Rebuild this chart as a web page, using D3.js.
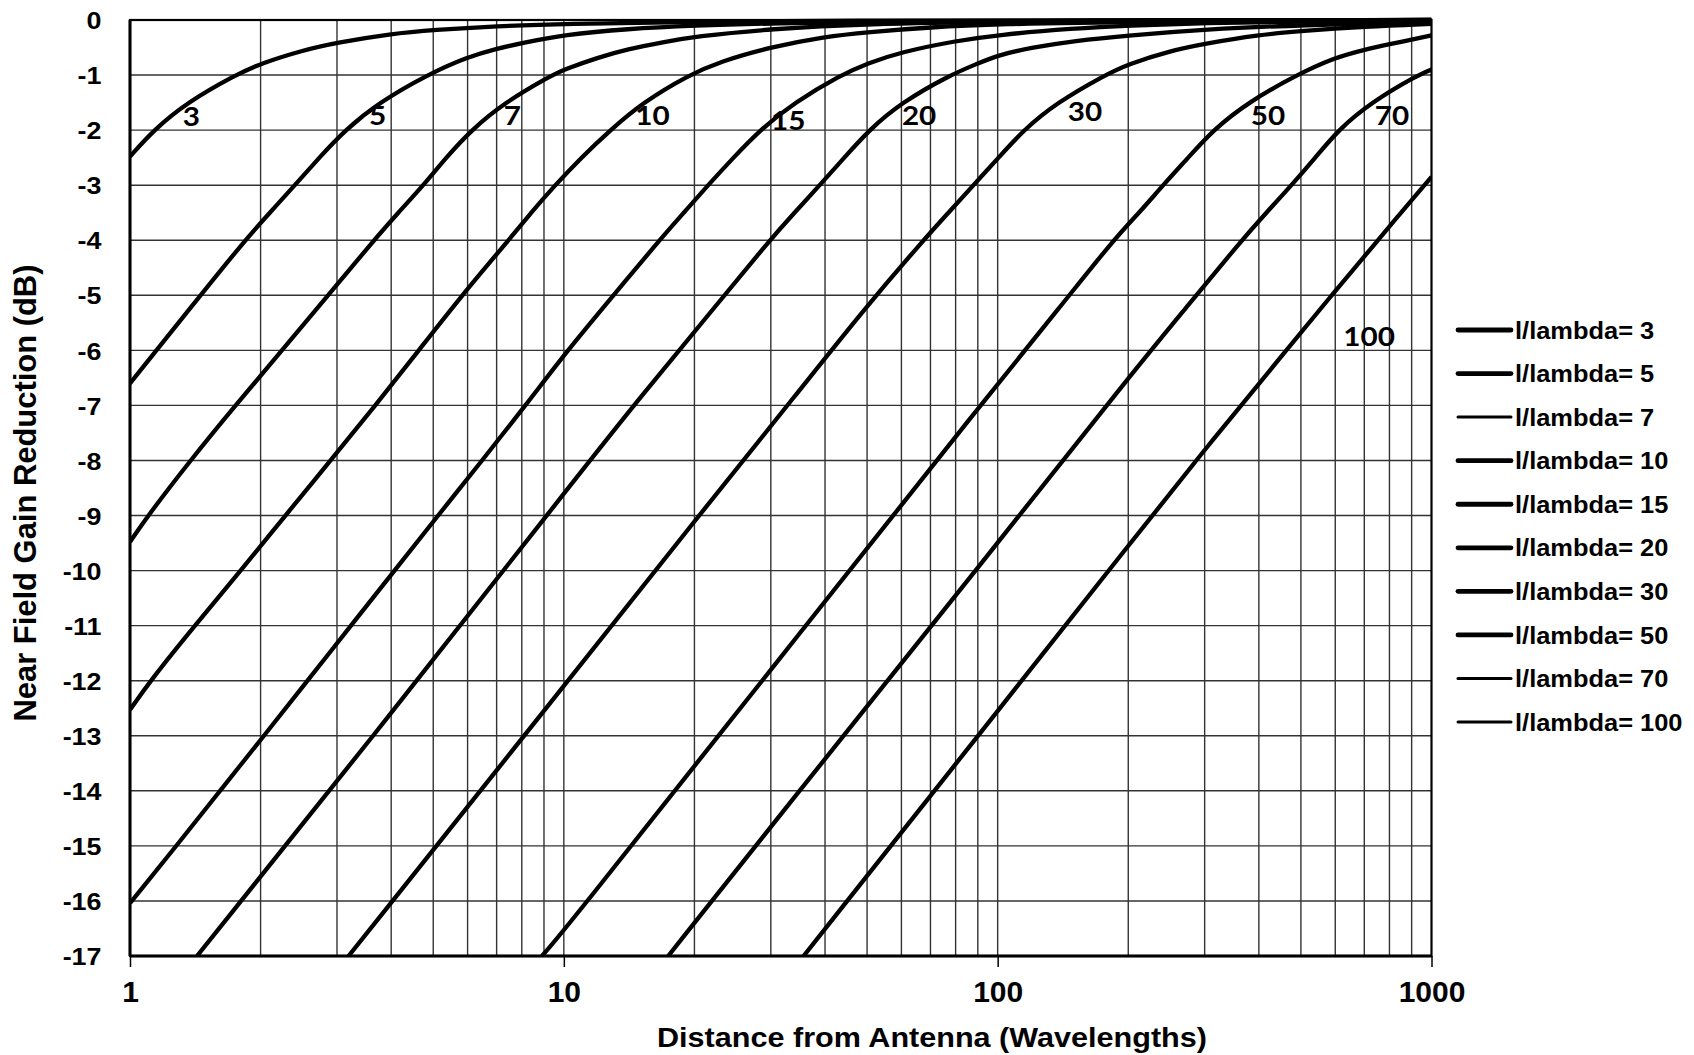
<!DOCTYPE html>
<html><head><meta charset="utf-8">
<script src="https://cdn.jsdelivr.net/npm/d3@7"></script>
<style>
html,body{margin:0;padding:0;background:#fff;}
svg{display:block;}
</style></head><body>
<svg id="chart" width="1694" height="1055"></svg>
<script>
// ---------------- data ----------------
const lengthValues = [3, 5, 7, 10, 15, 20, 30, 50, 70, 100];
const legendLabels = lengthValues.map(v => "l/lambda= " + v);
const curveLabels = ["3", "5", "7", "10", "15", "20", "30", "50", "70", "100"];

const xTickValues = [1, 10, 100, 1000];
const xTickLabels = ["1", "10", "100", "1000"];
const yTickValues = [0,-1,-2,-3,-4,-5,-6,-7,-8,-9,-10,-11,-12,-13,-14,-15,-16,-17];
const yTickLabels = ["0","-1","-2","-3","-4","-5","-6","-7","-8","-9","-10","-11","-12","-13","-14","-15","-16","-17"];

// [distance in wavelengths, gain reduction in dB]
const l3 = [[1,-2.48],[1.134,-2],[1.353,-1.5],[1.75,-1],[2,-0.79],[2.5,-0.55],[3,-0.41],[4,-0.25],[5,-0.18],[7,-0.11],[10,-0.07],[20,-0.03],[50,-0.012],[100,-0.005],[1000,0]];
const l5 = [[1,-6.6],[1.365,-5.27],[1.84,-4],[2.1,-3.5],[2.40,-3],[2.73,-2.5],[3.13,-2],[3.75,-1.5],[4.83,-1],[6,-0.67],[7,-0.52],[8,-0.42],[10,-0.27],[14,-0.16],[20,-0.1],[30,-0.06],[60,-0.03],[150,-0.01],[1000,0]];
const l7 = [[1,-9.48],[1.10,-9],[1.377,-8],[1.75,-7],[2.24,-6],[2.86,-5],[3.65,-4],[4.15,-3.5],[4.75,-3],[5.35,-2.5],[6.12,-2],[7.3,-1.5],[9.4,-1],[10,-0.9],[12,-0.68],[14,-0.53],[17,-0.4],[20,-0.3],[30,-0.16],[50,-0.07],[100,-0.03],[300,-0.01],[1000,0]];
const l10 = [[1,-12.53],[1.114,-12],[1.41,-11],[1.80,-10],[2.28,-9],[2.90,-8],[3.68,-7],[4.63,-6],[5.82,-5],[7.46,-4],[8.4,-3.5],[9.55,-3],[10.96,-2.5],[12.8,-2],[15.2,-1.5],[19.4,-1],[23,-0.75],[30,-0.49],[40,-0.3],[50,-0.22],[70,-0.13],[100,-0.075],[200,-0.03],[1000,-0.005]];
const l15 = [[1,-16.04],[1.279,-15],[1.612,-14],[2.036,-13],[2.566,-12],[3.23,-11],[4.07,-10],[5.13,-9],[6.48,-8],[8.16,-7],[10.2,-6],[12.4,-5.2],[16.6,-4],[18.9,-3.5],[21.5,-3],[24.6,-2.5],[28.3,-2],[34,-1.5],[43.5,-1],[50,-0.79],[60,-0.58],[80,-0.38],[100,-0.27],[150,-0.15],[200,-0.1],[300,-0.055],[500,-0.025],[1000,-0.01]];
const l20 = [[1.427,-17],[4,-12.6],[10,-8.6],[15,-6.85],[22.0,-5.27],[29.8,-4],[34,-3.5],[38.9,-3],[44.3,-2.5],[50.5,-2],[60,-1.5],[77.6,-1],[90,-0.79],[100,-0.64],[120,-0.5],[150,-0.38],[200,-0.28],[300,-0.17],[500,-0.09],[1000,-0.04]];
const l30 = [[3.19,-17],[10,-12.1],[20,-9.1],[35,-6.72],[49,-5.27],[67.4,-4],[77,-3.5],[87.9,-3],[100,-2.52],[114.6,-2],[137,-1.5],[176.7,-1],[200,-0.8],[250,-0.56],[300,-0.43],[400,-0.27],[500,-0.2],[700,-0.12],[1000,-0.07]];
const l50 = [[8.9,-17],[10,-16.55],[30,-11.8],[100,-6.6],[137.5,-5.27],[184.5,-4],[212,-3.5],[240.5,-3],[275,-2.5],[313.5,-2],[377,-1.5],[488,-1],[600,-0.68],[700,-0.54],[800,-0.44],[1000,-0.28]];
const l70 = [[17.4,-17],[30,-14.65],[100,-9.5],[200,-6.5],[269,-5.27],[365,-4],[416,-3.5],[476,-3],[540,-2.5],[609,-2],[725,-1.5],[930,-1],[1000,-0.9]];
const l100 = [[35.7,-17],[100,-12.55],[200,-9.55],[300,-7.8],[463,-6],[588,-5],[753,-4],[850,-3.5],[1000,-2.85]];
const seriesList = [l3, l5, l7, l10, l15, l20, l30, l50, l70, l100];

// curve-label anchor points (data units)
const labelDist = [1.385, 3.72, 7.61, 16.0, 32.9, 65.9, 159, 420, 811, 718];
const labelGain = [-1.76, -1.74, -1.74, -1.725, -1.816, -1.74, -1.67, -1.725, -1.725, -5.74];

// ---------------- layout ----------------
const svg = d3.select("#chart");
const P = {left: 130, right: 1431.5, top: 20, bottom: 956};
const x = d3.scaleLog().domain([1, 1000]).range([P.left, P.right]);
const y = d3.scaleLinear().domain([0, -17]).range([P.top, P.bottom]);
const ARIAL = "'Liberation Sans', Arial, sans-serif";

svg.append("rect").attr("width", 1694).attr("height", 1055).attr("fill", "#fff");

// grid
const grid = svg.append("g").attr("stroke", "#333").attr("stroke-width", 1.4);
grid.selectAll("line.v").data(x.ticks().filter(d => d > 1 && d < 1000)).join("line")
  .attr("x1", d => x(d)).attr("x2", d => x(d)).attr("y1", P.top).attr("y2", P.bottom);
grid.selectAll("line.h").data(yTickValues.filter(d => d < 0 && d > -17)).join("line")
  .attr("x1", P.left).attr("x2", P.right).attr("y1", d => y(d)).attr("y2", d => y(d));

// curves
svg.append("clipPath").attr("id", "clip").append("rect")
  .attr("x", P.left).attr("y", P.top - 3).attr("width", P.right - P.left).attr("height", P.bottom - P.top + 3);
const line = d3.line().x(p => x(p[0])).y(p => y(p[1])).curve(d3.curveBasis);
svg.append("g").attr("clip-path", "url(#clip)")
  .selectAll("path").data(seriesList).join("path")
  .attr("d", line).attr("fill", "none").attr("stroke", "#000")
  .attr("stroke-width", 4.3).attr("stroke-linejoin", "round");

// frame
svg.append("rect").attr("x", P.left).attr("y", P.top).attr("width", P.right - P.left).attr("height", P.bottom - P.top)
  .attr("fill", "none").attr("stroke", "#000").attr("stroke-width", 2.2);
svg.append("line").attr("x1", P.left).attr("x2", P.left).attr("y1", P.top).attr("y2", P.bottom)
  .attr("stroke", "#000").attr("stroke-width", 3);
svg.append("line").attr("x1", P.left).attr("x2", P.right).attr("y1", P.bottom).attr("y2", P.bottom)
  .attr("stroke", "#000").attr("stroke-width", 3);

// x axis
const xAxis = d3.axisBottom(x).tickValues(xTickValues).tickSize(11).tickPadding(14)
  .tickFormat((d, i) => xTickLabels[i]);
const gx = svg.append("g").attr("transform", `translate(0,${P.bottom})`).call(xAxis);
gx.select(".domain").remove();
gx.selectAll(".tick line").attr("stroke", "#000").attr("stroke-width", 1.5);
gx.selectAll(".tick text").attr("fill", "#000").style("font-family", ARIAL)
  .style("font-size", "30px").style("font-weight", "bold");

// y axis
const ySx = 1.12;
const yAxis = d3.axisLeft(y).tickValues(yTickValues).tickSize(0).tickPadding(28)
  .tickFormat((d, i) => yTickLabels[i]);
const gy = svg.append("g").attr("transform", `translate(${P.left},0)`).call(yAxis);
gy.select(".domain").remove();
gy.selectAll(".tick text").attr("fill", "#000").style("font-family", ARIAL)
  .style("font-size", "24px").style("font-weight", "bold")
  .attr("x", -28.5 / ySx).attr("dy", "0.36em").attr("transform", `scale(${ySx},1)`);

// axis titles
svg.append("text").attr("x", 932).attr("y", 1047).attr("text-anchor", "middle")
  .attr("textLength", 550).attr("lengthAdjust", "spacingAndGlyphs")
  .style("font-family", ARIAL).style("font-size", "28px").style("font-weight", "bold")
  .text("Distance from Antenna (Wavelengths)");
svg.append("text").attr("transform", "translate(36,493) rotate(-90)").attr("text-anchor", "middle")
  .attr("textLength", 457).attr("lengthAdjust", "spacingAndGlyphs")
  .style("font-family", ARIAL).style("font-size", "31px").style("font-weight", "bold")
  .text("Near Field Gain Reduction (dB)");

// curve labels
svg.append("g").selectAll("text").data(curveLabels).join("text")
  .attr("transform", (d, i) => `translate(${x(labelDist[i])},${y(labelGain[i])}) scale(1.12,1)`)
  .attr("text-anchor", "middle").attr("dy", "0.36em")
  .style("font-family", "Lato, 'Open Sans', sans-serif").style("font-size", "26.5px").style("font-weight", "bold")
  .text(d => d);

// legend
const thinLegend = new Set([7, 70, 100]);
const lg = svg.append("g");
const legY = i => 330 + i * 43.56;
lg.selectAll("line").data(lengthValues).join("line")
  .attr("x1", 1458).attr("x2", 1511).attr("y1", (d, i) => legY(i)).attr("y2", (d, i) => legY(i))
  .attr("stroke", "#000").attr("stroke-linecap", "round")
  .attr("stroke-width", d => thinLegend.has(d) ? 3 : 4.8);
lg.selectAll("text").data(legendLabels).join("text")
  .attr("transform", (d, i) => `translate(1515,${legY(i)}) scale(1.06,1)`)
  .attr("dy", "0.36em")
  .style("font-family", ARIAL).style("font-size", "24px").style("font-weight", "bold")
  .text(d => d);
</script>
</body></html>
